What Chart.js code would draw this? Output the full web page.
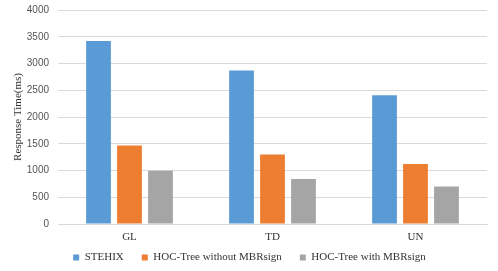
<!DOCTYPE html>
<html><head><meta charset="utf-8">
<script src="https://cdn.jsdelivr.net/npm/chart.js@4/dist/chart.umd.min.js"></script>
<style>html,body{margin:0;padding:0;background:#fff;}#wrap{width:498px;height:271px;}</style>
</head><body><div id="wrap"><canvas id="c"></canvas></div>
<script>
const categories = ["GL", "TD", "UN"];
const seriesNames = ["STEHIX", "HOC-Tree without MBRsign", "HOC-Tree with MBRsign"];
const stehix = [3420, 2870, 2405];
const withoutSign = [1465, 1300, 1120];
const withSign = [995, 840, 700];
const yTicks = [0, 500, 1000, 1500, 2000, 2500, 3000, 3500, 4000];
const colors = ["#5B9BD5", "#ED7D31", "#A5A5A5"];

const serif = "'Liberation Serif', 'Times New Roman', serif";
const LEGEND_SHRINK = 10;
const LEGEND_LIFT = 11;
const legendTweak = {
  id: 'legendTweak',
  beforeLayout(chart) {
    const lg = chart.legend;
    if (lg && !lg._tweaked) {
      const orig = lg.fit.bind(lg);
      lg.fit = function () { orig(); this.height -= LEGEND_SHRINK; };
      lg._tweaked = true;
    }
  },
  afterLayout(chart) {
    const lg = chart.legend;
    if (lg) { lg.top -= LEGEND_LIFT; lg.bottom -= LEGEND_LIFT; }
  }
};

new Chart(document.getElementById('c'), {
  type: 'bar',
  data: {
    labels: categories,
    datasets: [stehix, withoutSign, withSign].map((d, i) => ({
      label: seriesNames[i], data: d, backgroundColor: colors[i],
      categoryPercentage: 0.65, barPercentage: 0.8
    }))
  },
  plugins: [legendTweak],
  options: {
    responsive: true, maintainAspectRatio: false, animation: false,
    layout: { padding: { top: 0, right: 11, left: 12, bottom: -3 } },
    plugins: {
      legend: {
        position: 'bottom',
        labels: { boxWidth: 6, boxHeight: 6, padding: 18, color: '#333',
          font: { family: serif, size: 11 } }
      },
      tooltip: { enabled: false }
    },
    scales: {
      x: {
        afterFit: s => { s.height = 21; },
        grid: { display: false, drawTicks: false },
        border: { color: '#d9d9d9' },
        ticks: { color: '#333', padding: 7, font: { family: serif, size: 11 } }
      },
      y: {
        min: 0, max: 4000,
        afterBuildTicks: s => { s.ticks = yTicks.map(v => ({ value: v })); },
        afterFit: s => { s.width = 46; s.paddingTop = 10; },
        grid: { color: '#d9d9d9', drawTicks: false },
        border: { display: false },
        ticks: { color: '#555', padding: 9, callback: v => String(v),
          font: { family: "'Liberation Sans', Arial, sans-serif", size: 10 } },
        title: { display: true, text: 'Response Time(ms)', color: '#333', padding: 0,
          font: { family: serif, size: 11 } }
      }
    }
  }
});
</script></body></html>
